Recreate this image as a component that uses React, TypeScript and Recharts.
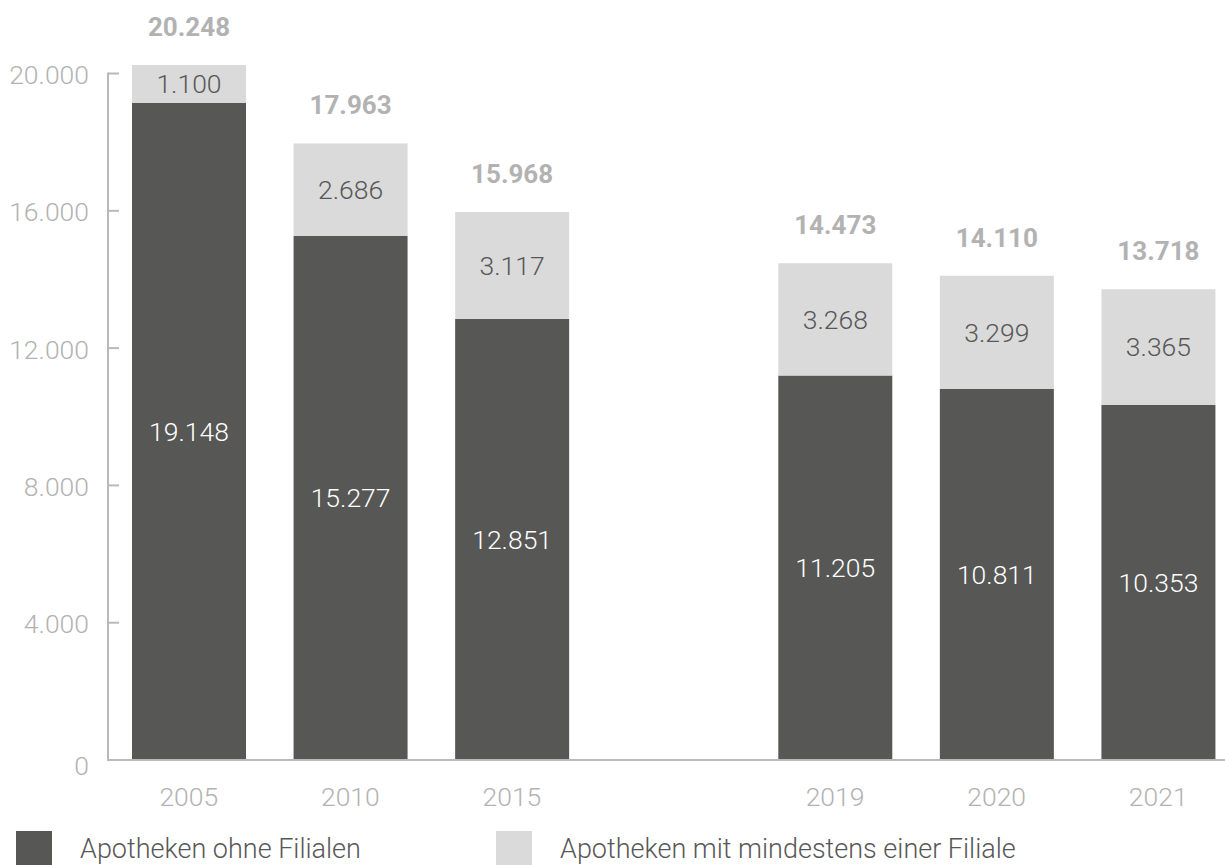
import React from "react";
import { BarChart, Bar, XAxis, YAxis, LabelList } from "recharts";

// Apotheken in Deutschland – mit / ohne Filialen
const years = ["2005", "2010", "2015", "", "2019", "2020", "2021"];
const ohneFilialen = [19148, 15277, 12851, null, 11205, 10811, 10353];
const mitFiliale = [1100, 2686, 3117, null, 3268, 3299, 3365];
const totals = [20248, 17963, 15968, null, 14473, 14110, 13718];
const yTicks = [0, 4000, 8000, 12000, 16000, 20000];

const data = years.map((year, i) => ({
  year,
  ohne: ohneFilialen[i],
  mit: mitFiliale[i],
  total: totals[i],
}));

const DARK = "#575756";
const LIGHT = "#dadada";
const AXIS = "#b9b9b9";
const MUTED = "#b2b2b2";
const FONT = "Roboto, 'Liberation Sans', sans-serif";

const W = 1248;
const H = 838;
const MARGIN = { top: 65, right: 9, bottom: 7, left: 0 };
const XAXIS_H = 71;
const PLOT_BOTTOM = H - MARGIN.bottom - XAXIS_H;
const TICK_GAP = 19;

// 1.234 style formatting
const fmt = (v: number) => String(v).replace(/\B(?=(\d{3})+(?!\d))/g, ".");

const YTick = (props: any) => {
  const { x, y, payload } = props;
  const ax = x + TICK_GAP;
  return (
    <g>
      {payload.value === yTicks[yTicks.length - 1] && (
        <line x1={ax} x2={ax} y1={y - 1} y2={PLOT_BOTTOM + 1} stroke={AXIS} strokeWidth={2} />
      )}
      {payload.value !== 0 && (
        <line x1={ax} x2={ax + 11} y1={y} y2={y} stroke={AXIS} strokeWidth={2} />
      )}
      <text
        x={x}
        y={payload.value === 0 ? y + 5 : y + 1}
        textAnchor="end"
        dominantBaseline="central"
        fill={MUTED}
        fontSize={26.5}
        fontWeight={300}
        fontFamily={FONT}
      >
        {fmt(payload.value)}
      </text>
    </g>
  );
};

const box = (props: any) => {
  const vb = props.viewBox && props.viewBox.width != null ? props.viewBox : props;
  return { x: Number(vb.x), y: Number(vb.y), width: Number(vb.width), height: Number(vb.height) };
};

const segmentLabel = (color: string) => (props: any) => {
  if (props.value == null) return null;
  const { x, y, width, height } = box(props);
  return (
    <text
      x={x + width / 2}
      y={y + height / 2}
      textAnchor="middle"
      dominantBaseline="central"
      fill={color}
      fontSize={26.5}
      fontWeight={300}
      fontFamily={FONT}
    >
      {fmt(props.value)}
    </text>
  );
};

const totalLabel = (props: any) => {
  if (props.value == null) return null;
  const { x, y, width } = box(props);
  return (
    <text
      x={x + width / 2}
      y={y - 38}
      textAnchor="middle"
      dominantBaseline="central"
      fill={MUTED}
      fontSize={26}
      fontWeight={700}
      fontFamily={FONT}
    >
      {fmt(props.value)}
    </text>
  );
};

const legendItems = [
  { name: "Apotheken ohne Filialen", color: DARK, left: 16 },
  { name: "Apotheken mit mindestens einer Filiale", color: LIGHT, left: 496 },
];

export default function App() {
  return (
    <div
      style={{
        position: "absolute",
        left: 0,
        top: 0,
        width: 1225,
        height: 865,
        overflow: "hidden",
        fontFamily: FONT,
        background: "#ffffff",
      }}
    >
      <BarChart width={W} height={H} data={data} margin={MARGIN}>
        <XAxis
          dataKey="year"
          height={XAXIS_H}
          axisLine={{ stroke: AXIS, strokeWidth: 2 }}
          tickLine={false}
          tickSize={0}
          tickMargin={27}
          tick={{ fill: MUTED, fontSize: 26.5, fontWeight: 300, fontFamily: FONT }}
          interval={0}
        />
        <YAxis
          width={108}
          domain={[0, "dataMax"]}
          ticks={yTicks}
          axisLine={false}
          tickLine={false}
          tickSize={0}
          tickMargin={TICK_GAP}
          tick={<YTick />}
          interval={0}
        />
        <Bar dataKey="ohne" stackId="a" fill={DARK} barSize={114} isAnimationActive={false}>
          <LabelList dataKey="ohne" content={segmentLabel("#ffffff")} />
        </Bar>
        <Bar dataKey="mit" stackId="a" fill={LIGHT} barSize={114} isAnimationActive={false}>
          <LabelList dataKey="mit" content={segmentLabel(DARK)} />
          <LabelList dataKey="total" content={totalLabel} />
        </Bar>
      </BarChart>
      {legendItems.map((item) => (
        <div
          key={item.name}
          style={{ position: "absolute", left: item.left, top: 831, display: "flex", alignItems: "center" }}
        >
          <div style={{ width: 36, height: 36, background: item.color }} />
          <span
            style={{
              marginLeft: 28,
              fontSize: 27,
              fontWeight: 300,
              color: DARK,
              lineHeight: "36px",
            }}
          >
            {item.name}
          </span>
        </div>
      ))}
    </div>
  );
}
